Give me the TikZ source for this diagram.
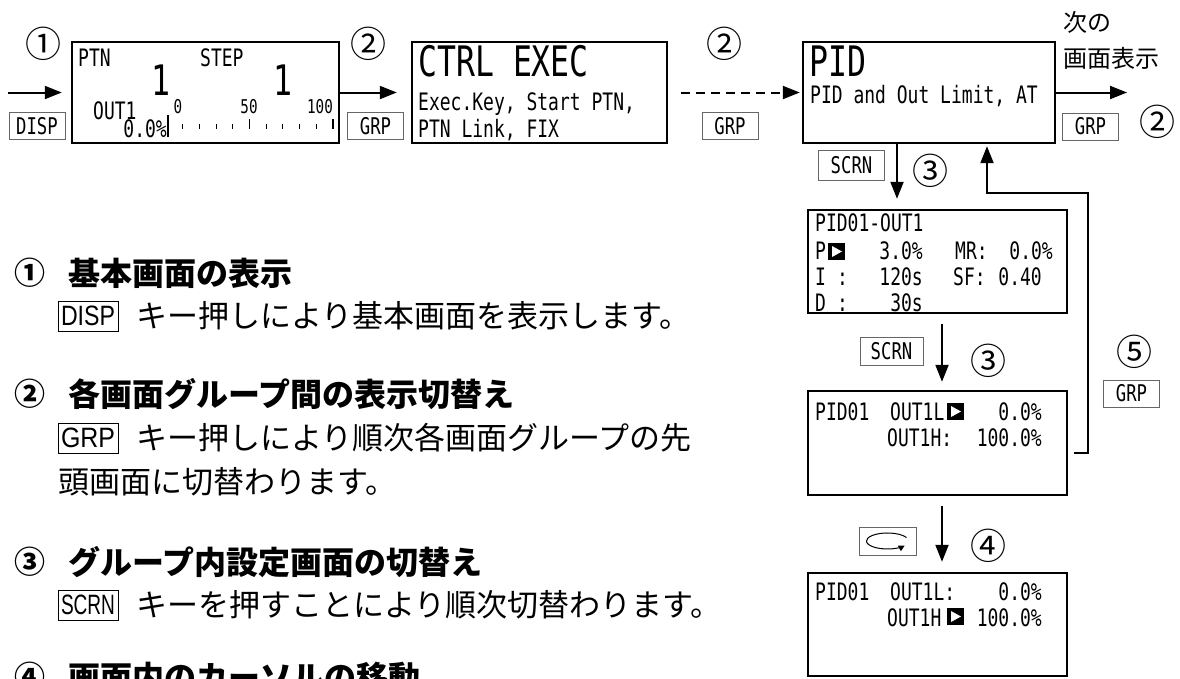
\documentclass[tikz,border=0pt]{standalone}
\usepackage{fontspec}
\usepackage{tikz}
\usetikzlibrary{arrows.meta}
\newfontfamily\jpfnt{Noto Sans CJK JP}
\newfontfamily\lcdfnt[FakeStretch=0.75]{DejaVu Sans Mono}
\newfontfamily\keyfnt{Liberation Sans}
% cursor mark: black square with white triangle, top left at (#1,#2)
\newcommand\curmark[2]{
  \fill (#1,#2) rectangle ++(17,17);
  \fill[white] ({#1+4},{#2+3}) -- ({#1+4},{#2+14}) -- ({#1+14},{#2+8.5}) -- cycle;
}

\begin{document}
\begin{tikzpicture}[x=1pt, y=-1pt,
    lcdbox/.style={draw, line width=2.4pt, inner sep=0pt},
    lcd/.style={font=\lcdfnt\fontsize{24}{24}\selectfont, inner sep=0pt, anchor=base west},
    lcdbig/.style={lcd, font=\lcdfnt\fontsize{42}{42}\selectfont},
    lcdsmall/.style={lcd, font=\lcdfnt\fontsize{19}{19}\selectfont, anchor=base},
    keycap/.style={draw=black!60, line width=0.9pt, inner sep=0pt, minimum width=56pt,
      minimum height=27pt, font=\lcdfnt\fontsize{23}{23}\selectfont},
    txtkey/.style={draw, line width=0.9pt, inner sep=0pt, minimum width=60pt,
      minimum height=30pt, font=\keyfnt\fontsize{28}{28}\selectfont},
    circnum/.style={font=\jpfnt\fontsize{36}{36}\selectfont, inner sep=0pt},
    headnum/.style={font=\jpfnt\bfseries\fontsize{31}{31}\selectfont, inner sep=0pt},
    head/.style={font=\jpfnt\bfseries\fontsize{32}{32}\selectfont, inner sep=0pt, anchor=west},
    body/.style={font=\jpfnt\fontsize{31}{31}\selectfont, inner sep=0pt, anchor=west},
    flow/.style={->, line width=2pt},
    >={Triangle[length=17pt,width=13pt]}]
  \def \boxh {101pt}
  \def \colw {259pt}
  \path[use as bounding box, fill=white] (0,0) rectangle (1180,678);
  \clip (0,0) rectangle (1180,678);

  % top row of screens
  \node[lcdbox, minimum width=267pt, minimum height=\boxh] (basic) at (205.5,92.5) {};
  \node[lcdbox, minimum width=255pt, minimum height=\boxh] (ctrl) at (539.5,92.5) {};
  \node[lcdbox, minimum width=252pt, minimum height=\boxh] (pid) at (929,92.5) {};

  \node[lcd] (bPtn) at (78,66) {PTN};
  \node[lcd] (bStep) at (200,66) {STEP};
  \node[lcdbig, anchor=base] (bPtnNo) at (161,95) {1};
  \node[lcdbig, anchor=base] (bStepNo) at (282.5,95) {1};
  \node[lcd] (bOut) at (93,119) {OUT1};
  \node[lcd, anchor=base east] (bVal) at (167,137) {0.0\%};
  \node[lcdsmall] (bS0) at (178,113) {0};
  \node[lcdsmall] (bS50) at (249,113) {50};
  \node[lcdsmall] (bS100) at (320,113) {100};
  \draw[line width=1.5pt] (168,115) -- (168,137);
  \foreach \k in {1,2,3,4,6,7,8,9}
    \draw[line width=1pt] ({166+16.7*\k},124) -- ++(0,5);
  \foreach \k in {5,10}
    \draw[line width=1.2pt] ({166+16.7*\k},119) -- ++(0,10);

  \node[lcdbig] (cTitle) at (418,76) {CTRL EXEC};
  \node[lcd] (cLineA) at (418,110) {Exec.Key, Start PTN,};
  \node[lcd] (cLineB) at (418,137) {PTN Link, FIX};

  \node[lcdbig] (pTitle) at (809,76) {PID};
  \node[lcd] (pLine) at (810,103) {PID and Out Limit, AT};

  % arrows between groups
  \coordinate (inS) at (8,92.5);
  \coordinate (outE) at (1127,92.5);
  \draw[flow, shorten >=9pt] (inS) -- (basic);
  \draw[flow, shorten >=14pt] (basic) -- (ctrl);
  \draw[flow, dash pattern=on 9pt off 6pt, shorten <=13pt, shorten >=2pt] (ctrl) -- (pid);
  \draw[flow] (pid) -- (outE);

  \node[circnum] (n1) at (43,44) {①};
  \node[keycap] (kDisp) at (37,126) {DISP};
  \node[circnum] (n2a) at (368,44) {②};
  \node[keycap] (kGrpA) at (375.5,126) {GRP};
  \node[circnum] (n2b) at (724,44) {②};
  \node[keycap] (kGrpB) at (730,126) {GRP};
  \node[circnum] (n2c) at (1157,122) {②};
  \node[keycap] (kGrpC) at (1090.5,126.5) {GRP};
  \node[font=\jpfnt\fontsize{24}{24}\selectfont, inner sep=0pt, anchor=west] (nextA) at (1063,22) {次の};
  \node[font=\jpfnt\fontsize{24}{24}\selectfont, inner sep=0pt, anchor=west] (nextB) at (1063,58) {画面表示};

  % screens inside the PID group
  \node[lcdbox, minimum width=\colw, minimum height=103pt] (pidA) at (937.5,261.5) {};
  \node[lcdbox, minimum width=\colw, minimum height=104pt] (pidB) at (937.5,443) {};
  \node[lcdbox, minimum width=\colw, minimum height=103pt] (pidC) at (937.5,624.5) {};

  \node[lcd] (aHead) at (815,231) {PID01-OUT1};
  \node[lcd] (aP) at (815,259) {P};
  \curmark{828}{243}
  \node[lcd, anchor=base east] (aPv) at (923,259) {3.0\%};
  \node[lcd] (aMr) at (955,259) {MR:};
  \node[lcd, anchor=base east] (aMrv) at (1053,259) {0.0\%};
  \node[lcd] (aI) at (815,285) {I};
  \node[lcd] (aIc) at (837,285) {:};
  \node[lcd, anchor=base east] (aIv) at (923,285) {120s};
  \node[lcd] (aSf) at (953,285) {SF:};
  \node[lcd, anchor=base east] (aSfv) at (1042,285) {0.40};
  \node[lcd] (aD) at (815,311) {D};
  \node[lcd] (aDc) at (837,311) {:};
  \node[lcd, anchor=base east] (aDv) at (923,311) {30s};

  \node[lcd] (bHead) at (815,420) {PID01};
  \node[lcd] (bLo) at (890,420) {OUT1L};
  \curmark{947}{403}
  \node[lcd, anchor=base east] (bLov) at (1042,420) {0.0\%};
  \node[lcd] (bHi) at (887,446) {OUT1H:};
  \node[lcd, anchor=base east] (bHiv) at (1042,446) {100.0\%};

  \node[lcd] (cHead) at (815,600) {PID01};
  \node[lcd] (cLo) at (890,600) {OUT1L:};
  \node[lcd, anchor=base east] (cLov) at (1042,600) {0.0\%};
  \node[lcd] (cHi) at (887,626) {OUT1H};
  \curmark{947}{608}
  \node[lcd, anchor=base east] (cHiv) at (1042,626) {100.0\%};

  \coordinate (colL) at (897,0);
  \coordinate (colM) at (942,0);
  \coordinate (colR) at (987,0);
  \coordinate (colF) at (1088,193);
  \draw[flow, shorten >=10pt] (pid.south -| colL) -- (pidA.north -| colL);
  \draw[flow, shorten <=10pt, shorten >=8pt] (pidA.south -| colM) -- (pidB.north -| colM);
  \draw[flow, shorten <=10pt, shorten >=10pt] (pidB.south -| colM) -- (pidC.north -| colM);
  \draw[flow, shorten >=2pt] ([xshift=6pt,yshift=-10pt]pidB.east) -| (colF) -| (pid.south -| colR);

  \node[keycap, minimum width=66pt, minimum height=30pt] (kScrnA) at (851.5,165) {SCRN};
  \node[circnum] (n3a) at (930,171) {③};
  \node[keycap, minimum width=63pt, minimum height=28pt] (kScrnB) at (891.5,351) {SCRN};
  \node[circnum] (n3b) at (988,361) {③};
  \node[circnum] (n5) at (1134,352) {⑤};
  \node[keycap] (kGrpD) at (1131.5,393.5) {GRP};
  \node[keycap, minimum width=57pt, minimum height=28pt] (kRot) at (887.5,541) {};
  \draw[line width=1pt, -{Triangle[length=6pt,width=6pt]}] ([xshift=19pt,yshift=3.4pt]kRot.center)
    arc[start angle=25, end angle=325, x radius=21pt, y radius=8pt];
  \node[circnum] (n4) at (988,546) {④};

  % explanations
  \node[headnum] (h1n) at (30,273) {①};
  \node[head] (h1) at (68,273) {基本画面の表示};
  \node[txtkey] (t1k) at (88,316) {\resizebox{54pt}{\height}{DISP}};
  \node[body] (t1) at (136,316) {キー押しにより基本画面を表示します。};

  \node[headnum] (h2n) at (30,394) {②};
  \node[head] (h2) at (68,394) {各画面グループ間の表示切替え};
  \node[txtkey] (t2k) at (88,438) {\resizebox{54pt}{\height}{GRP}};
  \node[body] (t2) at (136,438) {キー押しにより順次各画面グループの先};
  \node[body] (t2b) at (58,482) {頭画面に切替わります。};

  \node[headnum] (h3n) at (30,562) {③};
  \node[head] (h3) at (68,562) {グループ内設定画面の切替え};
  \node[txtkey] (t3k) at (88,605) {\resizebox{54pt}{\height}{SCRN}};
  \node[body] (t3) at (136,605) {キーを押すことにより順次切替わります。};

  \node[headnum] (h4n) at (30,677) {④};
  \node[head] (h4) at (68,677) {画面内のカーソルの移動};
\end{tikzpicture}
\end{document}
